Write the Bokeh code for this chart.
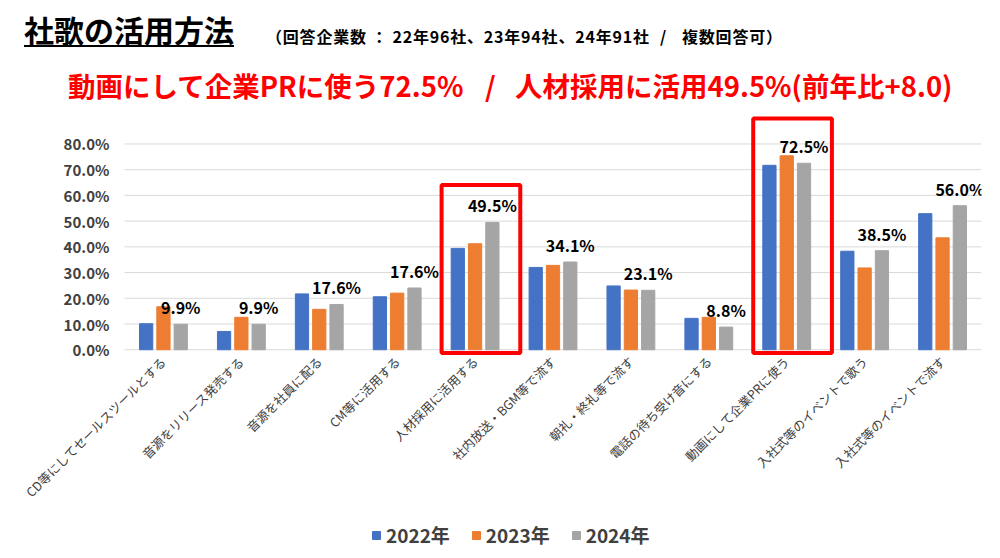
import numpy as np
from bokeh.plotting import figure
from bokeh.layouts import column
from bokeh.models import (Range1d, FixedTicker, PrintfTickFormatter, Div,
                          ColumnDataSource, Legend, LegendItem, BoxAnnotation)
from bokeh.transform import dodge
from bokeh.embed import file_html
from bokeh.resources import INLINE
from bokeh.core.properties import value

categories = [
    "CD等にしてセールスツールとする",
    "音源をリリース発売する",
    "音源を社員に配る",
    "CM等に活用する",
    "人材採用に活用する",
    "社内放送・BGM等で流す",
    "朝礼・終礼等で流す",
    "電話の待ち受け音にする",
    "動画にして企業PRに使う",
    "入社式等のイベントで歌う",
    "入社式等のイベントで流す",
]
v2022 = [10.1, 7.1, 21.7, 20.6, 39.4, 32.0, 24.8, 12.2, 71.7, 38.3, 52.9]
v2023 = [16.7, 12.6, 15.7, 22.0, 41.2, 32.8, 23.2, 12.6, 75.4, 31.8, 43.5]
v2024 = [9.9, 9.9, 17.6, 24.0, 49.5, 34.1, 23.1, 8.8, 72.5, 38.5, 56.0]
labels2024 = ["9.9%", "9.9%", "17.6%", "17.6%", "49.5%", "34.1%", "23.1%", "8.8%", "72.5%", "38.5%", "56.0%"]
years = ["2022年", "2023年", "2024年"]
highlight = ["人材採用に活用する", "動画にして企業PRに使う"]
y_ticks = [0, 10, 20, 30, 40, 50, 60, 70, 80]

title_text = "社歌の活用方法"
subtitle_parts = ["（回答企業数 ： 22年96社、23年94社、24年91社", "/", "複数回答可）"]
headline_parts = ["動画にして企業PRに使う72.5%", "/", "人材採用に活用49.5%(前年比+8.0)"]

FONT = "Noto Sans CJK JP"
colors = ["#4472C4", "#ED7D31", "#A5A5A5"]

# ---------- header (HTML text) ----------
def span(txt, left, top, size, color, extra=""):
    return (f'<span style="position:absolute;left:{left}px;top:{top}px;font-size:{size}px;'
            f'line-height:1;font-weight:bold;color:{color};white-space:nowrap;{extra}">{txt}</span>')

header_html = (
    f'<div style="position:relative;width:984px;height:105px;font-family:\'{FONT}\';">'
    + span(title_text, 24, 14, 30, "#000000",
           "text-decoration:underline;text-decoration-thickness:2px;text-underline-offset:3px;")
    + span(subtitle_parts[0], 266, 28, 16, "#000000", "letter-spacing:0.8px;")
    + span(subtitle_parts[1], 660, 28, 16, "#000000")
    + span(subtitle_parts[2], 682, 28, 16, "#000000", "letter-spacing:0.8px;")
    + span(headline_parts[0], 68, 72, 27.5, "#FF0000")
    + span(headline_parts[1], 485, 72, 27.5, "#FF0000")
    + span(headline_parts[2], 515, 72, 27.5, "#FF0000")
    + '</div>'
)
header = Div(text=header_html, width=984, height=105, margin=0)

# ---------- chart ----------
n = len(categories)
positions = list(range(1, n + 1))          # category slots on a numeric scale
src = ColumnDataSource(dict(x=positions, cat=categories, v2022=v2022, v2023=v2023,
                            v2024=v2024, lab=labels2024))

# The frame covers the whole lower page: both axes are fixed inside it so that
# the rotated category labels and the legend are not cut off.
p = figure(x_range=Range1d(0.5 - 1.476, n + 0.5),
           y_range=Range1d(-78.45, 93.4),
           width=984, height=446, output_backend="svg", toolbar_location=None,
           min_border_left=9, min_border_right=3, min_border_top=4, min_border_bottom=0,
           margin=0)
p.outline_line_color = None
p.background_fill_color = "white"
p.border_fill_color = "white"
p.xgrid.visible = False
p.ygrid.visible = False

# horizontal gridlines over the plotting area only
p.segment(x0=[positions[0] - 0.5] * len(y_ticks), x1=[positions[-1] + 0.5] * len(y_ticks),
          y0=y_ticks, y1=y_ticks, line_color="#D9D9D9", line_width=1, level="underlay")

yax = p.yaxis[0]
yax.fixed_location = positions[0] - 0.5
yax.ticker = FixedTicker(ticks=y_ticks)
yax.formatter = PrintfTickFormatter(format="%.1f%%")
yax.axis_line_color = None
yax.major_tick_line_color = None
yax.minor_tick_line_color = None
yax.major_tick_out = 0
yax.major_tick_in = 0
yax.major_label_standoff = 15
yax.major_label_text_font = FONT
yax.major_label_text_font_size = "15px"
yax.major_label_text_font_style = "bold"
yax.major_label_text_color = "#404040"

xax = p.xaxis[0]
xax.fixed_location = 0
xax.ticker = FixedTicker(ticks=positions)
xax.major_label_overrides = {pos: cat for pos, cat in zip(positions, categories)}
xax.axis_line_color = None
xax.major_tick_line_color = None
xax.minor_tick_line_color = None
xax.major_tick_out = 0
xax.major_tick_in = 0
xax.major_label_orientation = np.pi / 4
xax.major_label_standoff = 9
xax.major_label_text_font = FONT
xax.major_label_text_font_size = "12.5px"
xax.major_label_text_color = "#404040"

offs = [-0.222, 0.0, 0.222]
renderers = []
for i, (col, c) in enumerate(zip(["v2022", "v2023", "v2024"], colors)):
    r = p.vbar(x=dodge("x", offs[i]), top=col, bottom=0, width=0.17,
               source=src, fill_color=c, line_color=c)
    renderers.append(r)

p.text(x=dodge("x", offs[2]), y="v2024", text="lab", source=src,
       text_align="center", text_baseline="bottom", y_offset=-5,
       text_font=value(FONT), text_font_size="16px", text_font_style="bold", text_color="#000000")

for h in highlight:
    idx = categories.index(h)
    xc = positions[idx]
    top = max(v2022[idx], v2023[idx], v2024[idx])
    p.add_layout(BoxAnnotation(left=xc - 0.43, right=xc + 0.58, bottom=-1.3, top=top + 14.5,
                               fill_alpha=0, line_color="#FF0000", line_alpha=1.0, line_width=4))

legend = Legend(items=[LegendItem(label=years[i], renderers=[renderers[i]]) for i in range(3)],
                orientation="horizontal", location=(362, 3),
                border_line_color=None, background_fill_alpha=0,
                label_text_font=FONT, label_text_font_size="19px", label_text_font_style="bold",
                label_text_color="#404040", glyph_width=10, glyph_height=10,
                spacing=21, label_standoff=5, margin=0, padding=0)
p.add_layout(legend, "center")

layout = column(header, p, spacing=0)
open("out.html", "w").write(file_html(layout, INLINE))
